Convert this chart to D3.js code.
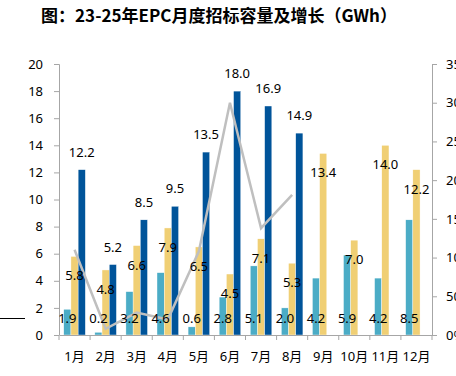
<!DOCTYPE html>
<html lang="zh">
<head>
  <meta charset="UTF-8">
  <title>EPC monthly</title>
  <script src="https://cdn.jsdelivr.net/npm/d3@7"></script>
  <style>
    body { margin: 0; background: #fff; }
  </style>
</head>
<body>
  <svg width="456" height="376" id="mainsvg"></svg>
  <script>
    const months = ['1月','2月','3月','4月','5月','6月','7月','8月','9月','10月','11月','12月']
    const v2023 = [1.9, 0.2, 3.2, 4.6, 0.6, 2.8, 5.1, 2.0, 4.2, 5.9, 4.2, 8.5]
    const v2024 = [5.8, 4.8, 6.6, 7.9, 6.5, 4.5, 7.1, 5.3, 13.4, 7.0, 14.0, 12.2]
    const v2025 = [12.2, 5.2, 8.5, 9.5, 13.5, 18.0, 16.9, 14.9]
    const growth = [110, 8, 29, 20, 108, 300, 138, 181]   // %
    const leftTicks = [0,2,4,6,8,10,12,14,16,18,20]
    const rightTicks = [0,50,100,150,200,250,300,350]

    const colors = {y23: '#4BACC6', y24: '#F0CF74', y25: '#00549A'}
    const font = '"Noto Sans", "Noto Sans CJK SC", sans-serif'

    const svg = d3.select('#mainsvg')
    const margin = {top:64, right:24, bottom:41, left:59}
    const innerWidth = 456 - margin.left - margin.right
    const innerHeight = 376 - margin.top - margin.bottom

    const g = svg.append('g')
      .attr('transform', `translate(${margin.left},${margin.top})`)

    const xScale = d3.scaleBand().domain(months).range([0, innerWidth])
    const subScale = d3.scaleBand().domain(['y23','y24','y25'])
      .range([0, xScale.bandwidth()]).paddingOuter(0.66)
    const yScale = d3.scaleLinear().domain([0, 20]).range([innerHeight, 0])
    const yRight = d3.scaleLinear().domain([0, 350]).range([innerHeight, 0])

    // title
    svg.append('text').text('图：23-25年EPC月度招标容量及增长（GWh）')
      .attr('x', 219).attr('y', 22)
      .attr('text-anchor', 'middle')
      .attr('font-family', '"Noto Sans CJK SC", sans-serif')
      .attr('font-weight', 'bold').attr('font-size', 17)

    // stray line on the left
    svg.append('line').attr('x1', 0).attr('x2', 25).attr('y1', 318.5).attr('y2', 318.5)
      .attr('stroke', '#000').attr('stroke-width', 1)

    // bars
    const series = [['y23', v2023], ['y24', v2024], ['y25', v2025]]
    series.forEach(([key, vals]) => {
      vals.forEach((v, i) => {
        g.append('rect')
          .attr('x', xScale(months[i]) + subScale(key))
          .attr('width', subScale.bandwidth())
          .attr('y', yScale(v))
          .attr('height', innerHeight - yScale(v))
          .attr('fill', colors[key])
          .attr('stroke', '#fff').attr('stroke-width', 0.4)
      })
    })

    // axes
    const yAxis = d3.axisLeft(yScale).tickValues(leftTicks).tickSize(5).tickPadding(11)
    const yAxisG = g.append('g').call(yAxis)
    const yRightG = g.append('g').attr('transform', `translate(${innerWidth},0)`)
      .call(d3.axisRight(yRight).tickValues(rightTicks).tickSize(5).tickPadding(9)
        .tickFormat(d => d + '%'))
    const xAxisG = g.append('g').attr('transform', `translate(0,${innerHeight})`)
      .call(d3.axisBottom(xScale).tickSize(0).tickPadding(17))
    // tick marks between categories
    xScale.domain().concat(['end']).forEach((m, i) => {
      const x = i * xScale.step()
      xAxisG.append('line').attr('x1', x).attr('x2', x).attr('y1', 0).attr('y2', 5)
        .attr('stroke', '#A6A6A6')
    })

    ;[yAxisG, yRightG, xAxisG].forEach(a => {
      a.select('.domain').attr('stroke', '#A6A6A6')
      a.selectAll('.tick line').attr('stroke', '#A6A6A6')
      a.selectAll('.tick text').attr('font-family', font).attr('font-size', 13).attr('fill', '#000')
    })
    yAxisG.select('.domain').attr('d', `M-5,0.5H0.5V${innerHeight}`)

    // growth line
    const line = d3.line()
      .x((d, i) => xScale(months[i]) + xScale.bandwidth() / 2)
      .y(d => yRight(d))
    g.append('path').datum(growth)
      .attr('d', line)
      .attr('fill', 'none').attr('stroke', '#BFBFBF').attr('stroke-width', 2.5)

    // labels
    const lab = (x, y, t) => g.append('text').text(t)
      .attr('x', x).attr('y', y).attr('text-anchor', 'middle')
      .attr('font-family', font).attr('font-size', 13).attr('fill', '#000')
    const cx = (key, i) => xScale(months[i]) + subScale(key) + subScale.bandwidth() / 2

    v2023.forEach((v, i) => lab(cx('y23', i), innerHeight - 12, v.toFixed(1)))
    v2024.forEach((v, i) => lab(cx('y24', i), yScale(v) + 24, v.toFixed(1)))
    v2025.forEach((v, i) => lab(cx('y25', i), yScale(v) - 13, v.toFixed(1)))
  </script>
</body>
</html>
